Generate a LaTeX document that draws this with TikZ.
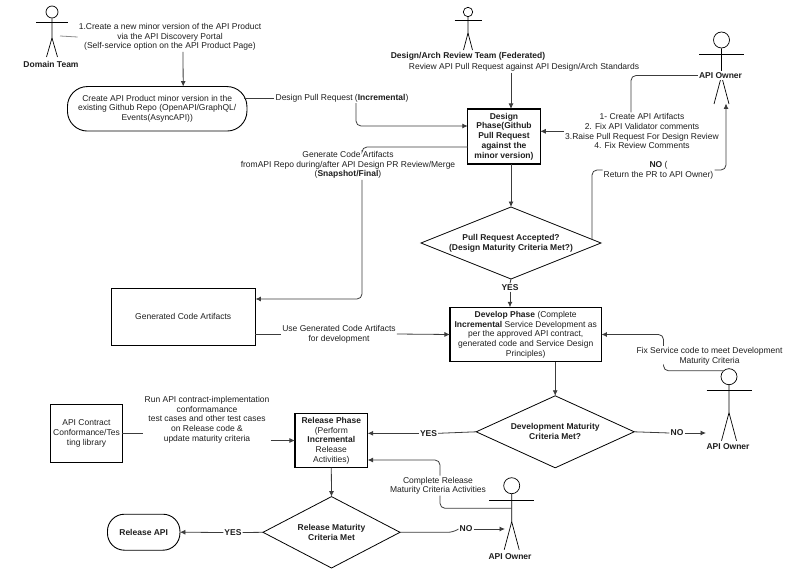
\documentclass[tikz,border=0pt]{standalone}
\usepackage{fontspec}
\setmainfont{Liberation Sans}
\usetikzlibrary{shapes.geometric, arrows.meta, positioning, calc}
\definecolor{flowgray}{RGB}{60, 60, 60}
\tikzstyle{arrow} = [line width=0.8pt,->,>={Latex[length=5.5pt,width=5pt]},flowgray]
\tikzstyle{wire} = [line width=0.8pt,flowgray,rounded corners=5pt]
\tikzstyle{lbl} = [align=center,inner sep=1pt,fill=white]
\tikzstyle{phase} = [draw,line width=1.3pt,align=center,inner sep=0pt,outer sep=0pt]
\tikzstyle{plainbox} = [draw,line width=0.8pt,align=center,inner sep=0pt,outer sep=0pt]
\tikzstyle{terminal} = [draw,line width=0.9pt,align=center,inner sep=0pt,outer sep=0pt]
\tikzstyle{choice} = [draw,diamond,line width=0.8pt,align=center,inner sep=0pt,outer sep=0pt]
\begin{document}
\begin{tikzpicture}[x=1pt,y=-1pt,font=\fontsize{8.5}{9.7}\selectfont,text=black!88]
\useasboundingbox (0,0) rectangle (800,583);

% Actors
\foreach \nm/\x/\y/\r/\arm/\wid/\hip/\foot/\leg in {domainteam/52/12/6/10.5/16/26/45/5.5, reviewteam/468/12/4.7/8/13.5/21/38/4.5, ownerdesign/721.5/40/8/14/22.5/36/64/7.5, ownerdev/729/376.7/8/14/22.5/36/64/7.5, ownerrelease/511.7/485.7/8/14.5/22.5/36/64/7.5} {
    \node[circle,draw,line width=0.7pt,inner sep=0pt,minimum size=2*\r pt] (\nm) at (\x,\y) {};
    \draw[line width=0.7pt] (\nm.south) -- (\x,\y+\hip) -- (\x-\leg,\y+\foot);
    \draw[line width=0.7pt] (\x,\y+\hip) -- (\x+\leg,\y+\foot);
    \draw[line width=0.7pt] (\x-\wid,\y+\arm) -- (\x+\wid,\y+\arm);
}
\node[lbl] (domainname) at (51,64) {\textbf{Domain Team}};
\node[lbl] (reviewname) at (468,56.5) {\textbf{Design/Arch Review Team (Federated)}};
\node[lbl] (ownername) at (720.5,75.5) {\textbf{API Owner}};
\node[lbl] (devname) at (728,447) {\textbf{API Owner}};
\node[lbl] (relname) at (510,556.7) {\textbf{API Owner}};

% Boxes
\node[terminal,rounded corners=20pt,minimum width=179.5pt,minimum height=44.5pt] (createrepo) at (157.2,108.8) {Create API Product minor version in the\\existing Github Repo (OpenAPI/GraphQL/\\Events(AsyncAPI))};
\node[phase,minimum width=72.5pt,minimum height=55pt] (designphase) at (504,136.5) {\textbf{Design}\\\textbf{Phase(Github}\\\textbf{Pull Request}\\\textbf{against the}\\\textbf{minor version)}};
\node[choice,aspect=2.5,minimum width=180pt,minimum height=72pt] (acceptcheck) at (511,243) {\textbf{Pull Request Accepted?}\\\textbf{(Design Maturity Criteria Met?)}};
\node[plainbox,minimum width=144.5pt,minimum height=57pt] (genbox) at (183.2,316.5) {Generated Code Artifacts};
\node[phase,minimum width=151.5pt,minimum height=54.5pt] (developphase) at (525.7,334.5) {\textbf{Develop Phase} (Complete\\\textbf{Incremental} Service Development as\\per the approved API contract,\\generated code and Service Design\\Principles)};
\node[choice,aspect=2.2,minimum width=158pt,minimum height=72pt] (devcheck) at (555.2,431.8) {\textbf{Development Maturity}\\\textbf{Criteria Met?}};
\node[plainbox,minimum width=71.5pt,minimum height=57.5pt] (libbox) at (86.5,433.5) {API Contract\\Conformance/Tes\\ting library};
\node[phase,minimum width=72.7pt,minimum height=54.4pt] (releasephase) at (331.3,440.5) {\textbf{Release Phase}\\(Perform\\\textbf{Incremental}\\Release\\Activities)};
\node[choice,aspect=2.2,minimum width=137pt,minimum height=71.4pt] (releasecheck) at (331.5,532.3) {\textbf{Release Maturity}\\\textbf{Criteria Met}};
\node[terminal,rounded corners=17pt,minimum width=72.5pt,minimum height=36pt] (releaseapi) at (143.7,532.2) {\textbf{Release API}};

% Labels on connectors
\node[lbl] (newversion) at (170,37) {1.Create a new minor version of the API Product\\via the API Discovery Portal\\(Self-service option on the API Product Page)};
\node[lbl] (designpr) at (342,98) {Design Pull Request (\textbf{Incremental})};
\node[lbl] (genlabel) at (348,165) {Generate Code Artifacts\\fromAPI Repo during/after API Design PR Review/Merge\\(\textbf{Snapshot/Final})};
\node[lbl] (reviewlabel) at (524,67.5) {Review API Pull Request against API Design/Arch Standards};
\node[lbl] (artifactslabel) at (642,131.3) {1- Create API Artifacts\\2. Fix API Validator comments\\3.Raise Pull Request For Design Review\\4. Fix Review Comments};
\node[lbl] (returnlabel) at (658.5,170) {\textbf{NO} (\\Return the PR to API Owner)};
\node[lbl] (yesaccept) at (510,287.5) {\textbf{YES}};
\node[lbl] (uselabel) at (339,334) {Use Generated Code Artifacts\\for development};
\node[lbl] (fixlabel) at (709.5,356) {Fix Service code to meet Development\\Maturity Criteria};
\node[lbl] (nodev) at (677,433) {\textbf{NO}};
\node[lbl] (yesdev) at (428.5,433.3) {\textbf{YES}};
\node[lbl] (contractlabel) at (207,419.5) {Run API contract-implementation\\conformamance\\test cases and other test cases\\on Release code \&\\update maturity criteria};
\node[lbl] (completelabel) at (438,485.7) {Complete Release\\Maturity Criteria Activities};
\node[lbl] (yesrelease) at (233,532.5) {\textbf{YES}};
\node[lbl] (norelease) at (466,529) {\textbf{NO}};

% Free ends
\coordinate (domainstub) at (60,36);
\coordinate (repoout) at (244,98);
\coordinate (acceptout) at (592,239.5);
\coordinate (ownerfoot) at (726,103.5);
\coordinate (devarm) at (706,433);
\coordinate (relbody) at (511.7,508.3);
\coordinate (relleg) at (505,529);

% Connectors
\draw[wire,black!45] (domainstub) -- (newversion.west);
\draw[arrow] ([xshift=13pt]newversion.south) -- ([xshift=26pt]createrepo.north);
\draw[wire] (repoout) -- (designpr.west);
\draw[arrow,rounded corners=5pt] ([xshift=14pt]designpr.south) |- ([yshift=10.5pt]designphase.west);
\draw[wire] ([yshift=-10.5pt]designphase.west) -| ([xshift=14pt]genlabel.north);
\draw[arrow,rounded corners=5pt] ([xshift=14pt]genlabel.south) |- ([yshift=17.5pt]genbox.east);
\draw[arrow] ([xshift=-13pt]reviewlabel.south) -- (acceptcheck.north |- designphase.north);
\draw[arrow] (acceptcheck.north |- designphase.south) -- (acceptcheck.north);
\draw[wire] (ownername.west) -| ([xshift=-11pt]artifactslabel.north);
\draw[arrow] (artifactslabel.west) -- (artifactslabel.west -| designphase.east);
\draw[wire] (acceptout) |- (returnlabel.west);
\draw[arrow,rounded corners=5pt] (returnlabel.east) -| (ownerfoot);
\draw[wire] (acceptcheck.south) -- (yesaccept.north);
\draw[arrow] (yesaccept.south) -- (yesaccept.south |- developphase.north);
\draw[wire] ([yshift=-17.5pt]genbox.east) -- (uselabel.west);
\draw[arrow] (uselabel.east) -- (developphase.west);
\draw[arrow] (devcheck.north |- developphase.south) -- (devcheck.north);
\draw[wire] (ownerdev.north west) -| ([xshift=-46pt]fixlabel.south);
\draw[arrow,rounded corners=5pt] ([xshift=-46pt]fixlabel.north) |- (developphase.east);
\draw[wire] (devcheck.east) -- (nodev.west);
\draw[arrow] (nodev.east) -- (devarm);
\draw[wire] (devcheck.west) -- (yesdev.east);
\draw[arrow] (yesdev.west) -- (yesdev.west -| releasephase.east);
\draw[wire] (relbody) -| ([xshift=2pt]completelabel.south);
\draw[arrow,rounded corners=5pt] ([xshift=2pt]completelabel.north) |- ([yshift=-19.5pt]releasephase.east);
\draw[arrow] (releasephase.south) -- (releasecheck.north);
\draw[wire] (releasecheck.west) -- (yesrelease.east);
\draw[arrow] (yesrelease.west) -- (releaseapi.east);
\draw[wire] (releasecheck.east) -- ++(53,0) -- (norelease.west);
\draw[arrow] (norelease.east) -- (relleg);
\draw[wire] (libbox.east) -- (libbox.east -| contractlabel.west);
\draw[arrow] (contractlabel.east |- releasephase.west) -- (releasephase.west);
\end{tikzpicture}
\end{document}
